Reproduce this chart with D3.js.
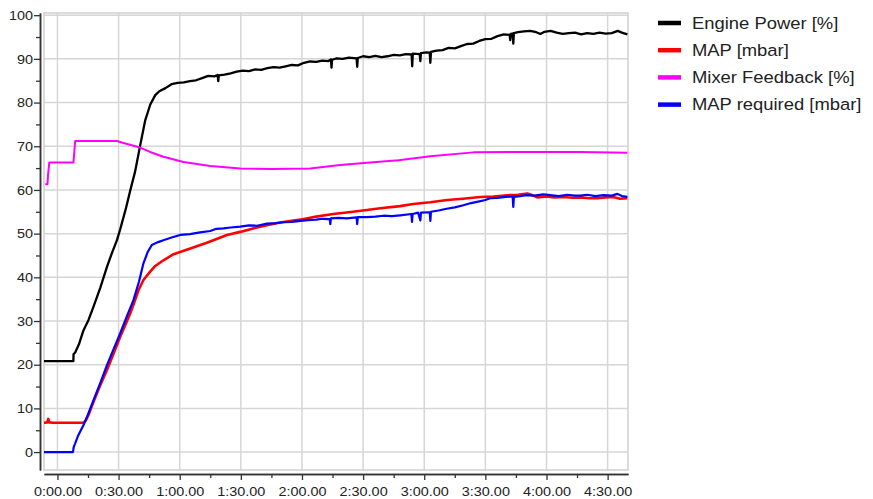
<!DOCTYPE html>
<html>
<head>
<meta charset="utf-8">
<script src="https://cdn.jsdelivr.net/npm/d3@7"></script>
<style>
  html, body { margin: 0; padding: 0; background: #fff; }
  svg { display: block; font-family: "Liberation Sans", Arial, sans-serif; }
</style>
</head>
<body>
<svg id="chart" width="873" height="499"></svg>
<script>
// ---------- DATA (time in seconds, values in % / mbar) ----------
const seriesNames = ["Engine Power [%]", "MAP [mbar]", "Mixer Feedback [%]", "MAP required [mbar]"];
const seriesColors = ["#000000", "#ff0000", "#ff00ff", "#0000ff"];

const xTickValues = [0, 30, 60, 90, 120, 150, 180, 210, 240, 270];
const xMinorTicks = [15, 45, 75, 105, 135, 165, 195, 225, 255];
const yTickValues = [0, 10, 20, 30, 40, 50, 60, 70, 80, 90, 100];
const yMinorTicks = [5, 15, 25, 35, 45, 55, 65, 75, 85, 95];

const enginePowerTime = [-6.9, 7.8, 7.9, 8.7, 10.5, 12.8, 15.2, 17.7, 21, 24.3, 27, 29.2, 30.8, 33.5, 35.7, 38.1, 40.6, 43.1, 44.7, 45.5, 48, 50,
  53, 56, 59, 62, 65, 68, 71, 74, 77, 78.6, 78.9, 79.2, 82, 85, 88, 91, 94, 97, 100, 103, 106, 109, 112, 115, 118, 121, 124, 127, 130, 133,
  134.2, 134.5, 134.8, 137, 140, 143, 146.8, 147.1, 147.4, 150, 153, 156, 159, 162, 165, 168, 171, 173.8, 174.1, 174.4, 177.8, 178.1, 178.4,
  181, 182.7, 183, 183.3, 186, 189, 192, 195, 198, 201, 204, 207, 210, 213, 216, 219, 221.9, 222.2, 222.5, 223.4, 223.7, 224, 226, 229, 232,
  235, 237, 239, 242, 245, 248, 251, 254, 257, 260, 263, 266, 269, 272, 275, 277, 279.7];
const enginePowerValue = [20.8, 20.8, 22.4, 22.8, 24.6, 27.9, 30.2, 33.3, 37.6, 42.4, 45.9, 48.5, 51.0, 55.6, 59.8, 64.2, 70.2, 76.0, 78.3, 79.5, 81.7, 82.6,
  83.3, 84.2, 84.5, 84.6, 84.9, 85.1, 85.6, 86.1, 86.0, 86.3, 84.9, 86.2, 86.4, 86.7, 87.1, 87.3, 87.2, 87.6, 87.5, 87.9, 88.1, 88.0, 88.3, 88.6, 88.5, 89.1, 89.4, 89.3, 89.6, 89.5,
  89.9, 88.0, 89.8, 90.1, 90.0, 90.3, 90.1, 88.2, 90.2, 90.6, 90.4, 90.7, 90.4, 90.6, 90.9, 90.8, 91.1, 91.0, 88.3, 91.2, 91.1, 89.5, 91.3,
  91.5, 91.4, 89.1, 91.6, 91.9, 92.0, 92.5, 92.4, 92.9, 93.4, 93.5, 94.1, 94.5, 94.6, 95.2, 95.6, 95.5, 94.3, 95.7, 95.8, 93.5, 95.9, 96.1, 96.3, 96.4,
  96.1, 95.7, 96.2, 96.4, 96.0, 95.7, 95.9, 96.0, 95.6, 95.9, 95.7, 96.0, 95.8, 95.9, 96.4, 96.0, 95.6];

const mapTime = [-6.9, -5.0, -4.5, -4.0, -2, 12.8, 14.0, 15.5, 17.7, 21, 24.3, 27.5, 30.8, 33.2, 35.7, 37.8, 39.8, 42.2, 45.5, 48, 52, 57, 60.2,
  65.2, 73.3, 83.2, 89.7, 96, 102.8, 110, 119.2, 127, 135.3, 143, 151.9, 158.4, 168.2, 174.6, 183, 191.3, 199, 207.5, 214, 220.8, 226,
  230.6, 232.5, 235.5, 240, 244, 248.2, 253, 257, 261, 264.9, 269, 272.8, 276, 279.7];
const mapValue = [6.7, 6.8, 7.6, 6.8, 6.7, 6.7, 7.3, 8.8, 11.5, 15.3, 18.8, 22.5, 26.4, 29.0, 31.7, 34.4, 37.1, 39.4, 41.3, 42.6, 43.9, 45.3, 45.8,
  46.6, 47.9, 49.7, 50.4, 51.2, 51.9, 52.6, 53.2, 53.9, 54.5, 54.9, 55.4, 55.8, 56.3, 56.8, 57.2, 57.7, 58.0, 58.4, 58.5, 58.8, 58.9,
  59.2, 58.9, 58.3, 58.5, 58.3, 58.4, 58.2, 58.3, 58.1, 58.1, 58.3, 58.4, 58.0, 58.1];

const mixerTime = [-6.0, -4.9, -4.6, -4.0, 7.85, 8.7, 29.2, 32, 36, 40.6, 45.5, 52, 61.9, 75, 89.7, 105, 124, 138.8, 151.9, 167.4, 183,
  204.1, 223.7, 256.6, 279.7];
const mixerValue = [61.3, 61.3, 63.5, 66.3, 66.3, 71.2, 71.2, 70.8, 70.3, 69.7, 68.7, 67.6, 66.4, 65.5, 64.9, 64.8, 64.9, 65.7, 66.2, 66.8, 67.7,
  68.6, 68.7, 68.7, 68.5];

const mapReqTime = [-6.9, 7.6, 8.0, 8.7, 10, 12.8, 15, 17.7, 21, 24.3, 27.5, 30.8, 34, 37.3, 40, 42.2, 44.3, 46.3, 49, 52, 56, 60.2, 65, 70, 75,
  78, 81.5, 85, 89.7, 94, 98, 102.8, 107, 111, 115, 119.2, 123, 127, 130, 133.6, 133.9, 134.2, 138, 142, 146.8, 147.1, 147.4, 151.9, 156,
  160, 164, 168.2, 173.7, 174, 174.3, 177, 178.1, 178.4, 182.7, 183, 183.3, 187, 191, 195, 199.2, 203, 207, 210, 212.4, 216, 220, 223.4,
  223.7, 224, 227, 230, 234, 238.4, 242, 246, 250, 254, 256.6, 260, 264, 268, 272, 274.8, 277, 279.7];
const mapReqValue = [0, 0, 1.2, 2.0, 3.6, 6.2, 8.6, 11.9, 15.8, 19.9, 23.5, 27.2, 31.0, 34.8, 39.0, 43.2, 45.8, 47.4, 48.0, 48.5, 49.1, 49.7, 49.9, 50.3, 50.6,
  51.1, 51.2, 51.4, 51.6, 51.9, 51.8, 52.3, 52.4, 52.6, 52.7, 52.9, 53.1, 53.2, 53.4, 53.3, 52.2, 53.5, 53.6, 53.5, 53.7, 52.2, 53.8, 53.8, 53.9,
  54.1, 54.0, 54.2, 54.5, 52.7, 54.5, 54.8, 53.0, 54.8, 54.9, 52.9, 55.0, 55.3, 55.7, 56.0, 56.5, 57.0, 57.4, 57.7, 58.1, 58.2, 58.4, 58.5,
  56.1, 58.4, 58.6, 58.8, 58.7, 59.0, 58.8, 58.6, 58.9, 58.7, 58.7, 58.9, 58.6, 58.8, 58.7, 59.1, 58.6, 58.4];

// ---------- LAYOUT ----------
const svg = d3.select("#chart");
const plot = { left: 44, right: 628, top: 13, bottom: 470 };
const stretch = 1.11; // horizontal text stretch seen in reference

const x = d3.scaleLinear().domain([-6.6, 280]).range([plot.left, plot.right]);
const y = d3.scaleLinear().domain([-4.1, 100.5]).range([plot.bottom, plot.top]);

const fmtTime = s => `${Math.floor(s / 60)}:${String(s % 60).padStart(2, "0")}.00`;

// grid
const grid = svg.append("g");
grid.selectAll("line.vx").data(xTickValues).join("line")
  .attr("x1", d => x(d)).attr("x2", d => x(d))
  .attr("y1", plot.top).attr("y2", plot.bottom)
  .attr("stroke", "#d6d6d6").attr("stroke-width", 1.5);
grid.selectAll("line.hy").data(yTickValues).join("line")
  .attr("x1", plot.left).attr("x2", plot.right)
  .attr("y1", d => y(d)).attr("y2", d => y(d))
  .attr("stroke", "#d6d6d6").attr("stroke-width", 1.5);
grid.append("rect")
  .attr("x", plot.left).attr("y", plot.top)
  .attr("width", plot.right - plot.left).attr("height", plot.bottom - plot.top)
  .attr("fill", "none").attr("stroke", "#d0d0d0").attr("stroke-width", 1.5);

// axes
const axisColor = "#333";
const yAxisG = svg.append("g").attr("transform", "translate(40,0)")
  .call(d3.axisLeft(y).tickValues(yTickValues).tickSize(6).tickPadding(0).tickSizeOuter(0));
const yMinorG = svg.append("g").attr("transform", "translate(40,0)")
  .call(d3.axisLeft(y).tickValues(yMinorTicks).tickSize(4).tickFormat("").tickSizeOuter(0));
const xAxisG = svg.append("g").attr("transform", `translate(0,474)`)
  .call(d3.axisBottom(x).tickValues(xTickValues).tickSize(6).tickPadding(7).tickFormat(fmtTime).tickSizeOuter(0));
const xMinorG = svg.append("g").attr("transform", `translate(0,474)`)
  .call(d3.axisBottom(x).tickValues(xMinorTicks).tickSize(4).tickFormat("").tickSizeOuter(0));

[yAxisG, yMinorG, xAxisG, xMinorG].forEach(g => {
  g.selectAll("path.domain").attr("stroke", axisColor).attr("stroke-width", 1.5);
  g.selectAll(".tick line").attr("stroke", axisColor).attr("stroke-width", 1.3);
  g.selectAll("text").attr("font-size", 13).attr("fill", "#222")
    .attr("font-family", "'Liberation Sans', Arial, sans-serif");
});
yAxisG.selectAll("text").attr("x", -6.3).attr("transform", `scale(${stretch},1)`);
xAxisG.selectAll("text").attr("transform", `scale(${stretch},1)`);

// lines
svg.append("clipPath").attr("id", "clip").append("rect")
  .attr("x", plot.left).attr("y", plot.top)
  .attr("width", plot.right - plot.left).attr("height", plot.bottom - plot.top);

const series = [
  { name: seriesNames[0], color: seriesColors[0], t: enginePowerTime, v: enginePowerValue, w: 2.3 },
  { name: seriesNames[1], color: seriesColors[1], t: mapTime, v: mapValue, w: 2.6 },
  { name: seriesNames[2], color: seriesColors[2], t: mixerTime, v: mixerValue, w: 2.0 },
  { name: seriesNames[3], color: seriesColors[3], t: mapReqTime, v: mapReqValue, w: 2.2 }
];

const line = d3.line().x(d => x(d[0])).y(d => y(d[1]));
const linesG = svg.append("g").attr("clip-path", "url(#clip)");
series.forEach(s => {
  const pts = s.t.map((t, i) => [t, s.v[i]]);
  linesG.append("path").datum(pts)
    .attr("d", line)
    .attr("fill", "none")
    .attr("stroke", s.color)
    .attr("stroke-width", s.w)
    .attr("stroke-linejoin", "round");
});

// legend
const legend = svg.append("g");
series.forEach((s, i) => {
  const yy = 23 + i * 27.2;
  legend.append("line")
    .attr("x1", 658).attr("x2", 681).attr("y1", yy).attr("y2", yy)
    .attr("stroke", s.color).attr("stroke-width", 4.5);
  legend.append("text")
    .attr("transform", `translate(692,${yy}) scale(${stretch},1)`)
    .attr("dy", "0.35em")
    .attr("font-size", 16.6)
    .attr("fill", "#222")
    .text(s.name);
});
</script>
</body>
</html>
